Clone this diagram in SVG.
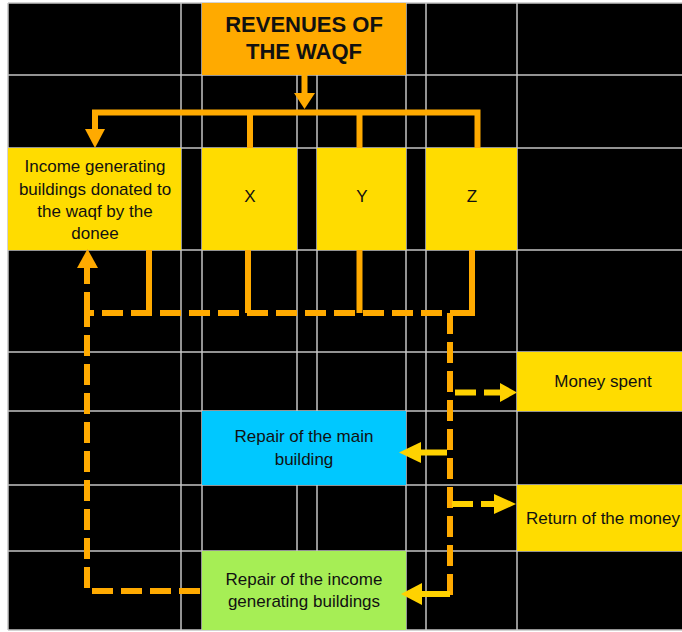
<svg xmlns="http://www.w3.org/2000/svg" width="682" height="632" viewBox="0 0 682 632">
<defs>
<style>
.grid line{stroke:#c4c4c4;stroke-width:1.5}
.box{stroke:none}
.yel{fill:#FFDC00}
.t{font-family:"Liberation Sans",Arial,sans-serif;font-size:17px;fill:#111;text-anchor:middle}
.title{font-family:"Liberation Sans",Arial,sans-serif;font-size:22px;font-weight:bold;fill:#111;text-anchor:middle}
.so{fill:none;stroke:#FFAA00;stroke-width:6}
.do{fill:none;stroke:#FFAA00;stroke-width:6;stroke-dasharray:21 8}
.dy{fill:none;stroke:#FFD200;stroke-width:6;stroke-dasharray:21 8}
.sy{fill:none;stroke:#FFD200;stroke-width:6}
.ho{fill:#FFAA00}
.hy{fill:#FFD200}
</style>
</defs>
<rect x="0" y="0" width="682" height="632" fill="#ffffff"/>
<rect x="8" y="3" width="674" height="627" fill="#000000"/>
<g class="grid">
<line x1="8" y1="3" x2="8" y2="630"/>
<line x1="181" y1="3" x2="181" y2="630"/>
<line x1="202" y1="3" x2="202" y2="630"/>
<line x1="297" y1="3" x2="297" y2="630"/>
<line x1="317" y1="3" x2="317" y2="630"/>
<line x1="406" y1="3" x2="406" y2="630"/>
<line x1="426" y1="3" x2="426" y2="630"/>
<line x1="517" y1="3" x2="517" y2="630"/>
<line x1="8" y1="3" x2="682" y2="3"/>
<line x1="8" y1="75" x2="682" y2="75"/>
<line x1="8" y1="148" x2="682" y2="148"/>
<line x1="8" y1="250" x2="682" y2="250"/>
<line x1="8" y1="352" x2="682" y2="352"/>
<line x1="8" y1="411" x2="682" y2="411"/>
<line x1="8" y1="485" x2="682" y2="485"/>
<line x1="8" y1="551" x2="682" y2="551"/>
<line x1="8" y1="630" x2="682" y2="630"/>
</g>
<g id="revenues">
<rect class="box" x="202" y="3" width="204" height="72" fill="#FFAA00"/>
<text class="title" x="304" y="32">REVENUES OF</text>
<text class="title" x="304" y="59">THE WAQF</text>
</g>
<g id="income">
<rect class="box yel" x="8" y="148" width="173" height="102"/>
<text class="t" x="95" y="172">Income generating</text>
<text class="t" x="95" y="195">buildings donated to</text>
<text class="t" x="95" y="217">the waqf by the</text>
<text class="t" x="95" y="239">donee</text>
</g>
<g id="x">
<rect class="box yel" x="202" y="148" width="95" height="102"/>
<text class="t" x="250" y="202">X</text>
</g>
<g id="y">
<rect class="box yel" x="317" y="148" width="89" height="102"/>
<text class="t" x="362" y="202">Y</text>
</g>
<g id="z">
<rect class="box yel" x="426" y="148" width="91" height="102"/>
<text class="t" x="472" y="202">Z</text>
</g>
<g id="money-spent">
<rect class="box yel" x="517" y="352" width="165" height="59"/>
<text class="t" x="603" y="387">Money spent</text>
</g>
<g id="repair-main">
<rect class="box" x="202" y="411" width="204" height="74" fill="#00C8FF"/>
<text class="t" x="304" y="442">Repair of the main</text>
<text class="t" x="304" y="465">building</text>
</g>
<g id="return-money">
<rect class="box yel" x="517" y="485" width="165" height="66"/>
<text class="t" x="603" y="524">Return of the money</text>
</g>
<g id="repair-income">
<rect class="box" x="202" y="551" width="204" height="79" fill="#A6EE55"/>
<text class="t" x="304" y="585">Repair of the income</text>
<text class="t" x="304" y="607">generating buildings</text>
</g>
<g id="connectors">
<path class="so" d="M304.5 75 V94"/>
<polygon class="ho" points="294,93 315,93 304.5,109"/>
<path class="so" d="M95 130 V112.5 H477.5 V148"/>
<polygon class="ho" points="85,129 105,129 95,148"/>
<path class="so" d="M250 112.5 V148"/>
<path class="so" d="M359.5 112.5 V148"/>
<path class="so" d="M149 250 V313"/>
<path class="so" d="M248 250 V313"/>
<path class="so" d="M359.5 250 V313"/>
<path class="so" d="M472 250 V316 M475 313 H455"/>
<path class="do" d="M200 591 H87 V313 H472"/>
<path class="do" d="M87 313 V268"/>
<polygon class="ho" points="77,268 98,268 87.5,249"/>
<path class="do" d="M450 313 V597"/>
<path class="dy" d="M455 392.5 H501"/>
<polygon class="hy" points="500,383 500,402 517,392.5"/>
<path class="sy" d="M447 452.5 H420"/>
<polygon class="hy" points="421,442 421,463 399,452.5"/>
<path class="dy" d="M452 504 H495"/>
<polygon class="hy" points="494,494 494,514 516,504"/>
<path class="sy" d="M450 594 H421"/>
<polygon class="hy" points="422,583 422,605 401,594"/>
</g>
</svg>
